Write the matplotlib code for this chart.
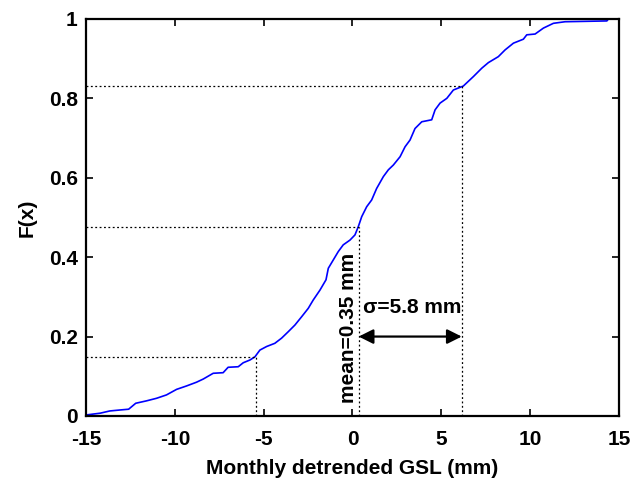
import numpy as np
import matplotlib
matplotlib.use('Agg')
import matplotlib.pyplot as plt

x_cdf = [-15.0, -14.2, -13.66, -13.1, -12.6, -12.2, -11.6, -11.03, -10.47, -9.9,
         -9.34, -8.78, -8.4, -7.84, -7.28, -7.0, -6.43, -6.15, -5.77, -5.49,
         -5.21, -4.83, -4.37, -3.99, -3.62, -3.24, -2.86, -2.49, -2.21, -1.83,
         -1.49, -1.36, -1.08, -0.80, -0.52, -0.14, 0.14, 0.33, 0.52, 0.80,
         1.08, 1.36, 1.74, 2.02, 2.30, 2.68, 2.96, 3.24, 3.52, 3.90,
         4.46, 4.65, 4.93, 5.31, 5.68, 6.24, 6.81, 7.28, 7.65, 8.21,
         8.59, 9.06, 9.62, 9.81, 10.28, 10.75, 11.31, 11.97, 14.32, 14.41, 15.0]
F_cdf = [0.0025, 0.007, 0.0126, 0.015, 0.017, 0.032, 0.038, 0.0445, 0.053, 0.067,
         0.0756, 0.085, 0.093, 0.1075, 0.109, 0.1226, 0.124, 0.134, 0.141, 0.149,
         0.166, 0.175, 0.183, 0.196, 0.212, 0.229, 0.25, 0.271, 0.292, 0.317,
         0.343, 0.372, 0.393, 0.414, 0.431, 0.443, 0.456, 0.477, 0.502, 0.527,
         0.544, 0.573, 0.603, 0.620, 0.632, 0.653, 0.678, 0.695, 0.724, 0.741,
         0.746, 0.771, 0.788, 0.80, 0.821, 0.831, 0.855, 0.876, 0.89, 0.905,
         0.922, 0.939, 0.949, 0.96, 0.962, 0.977, 0.989, 0.993, 0.995, 1.0, 1.0]

mean_val = 0.35
sigma = 5.8
guide_x = [mean_val - sigma, mean_val, mean_val + sigma]
guide_F = [0.149, 0.477, 0.83]

xticks = [-15, -10, -5, 0, 5, 10, 15]
yticks = [0, 0.2, 0.4, 0.6, 0.8, 1]
ytick_labels = ['0', '0.2', '0.4', '0.6', '0.8', '1']

plt.rcParams['font.family'] = ['Liberation Sans', 'DejaVu Sans']
plt.rcParams['font.weight'] = 'bold'
plt.rcParams['font.size'] = 15
plt.rcParams['axes.unicode_minus'] = False

fig = plt.figure(figsize=(6.36, 4.82), dpi=100)
ax = fig.add_axes([0.1352, 0.137, 0.838, 0.8237])

ax.plot(x_cdf, F_cdf, color='#0000ff', lw=1.2)

# dotted guide lines
for gx, gF in zip(guide_x, guide_F):
    ax.plot([-15, gx], [gF, gF], color='k', lw=0.9, linestyle=(0, (1.5, 2)))
    ax.plot([gx, gx], [0, gF], color='k', lw=0.9, linestyle=(0, (1.5, 2)))

# sigma arrow
ax.annotate('', xy=(mean_val + sigma, 0.2), xytext=(mean_val, 0.2),
            arrowprops=dict(arrowstyle='<|-|>', color='k', lw=1.6,
                            mutation_scale=22, shrinkA=0, shrinkB=0))
ax.text(0.58, 0.26, '\u03c3=5.8 mm', ha='left', va='baseline', fontsize=15,
        fontweight='bold')
ax.text(-0.22, 0.032, 'mean=0.35 mm', rotation=90, ha='center', va='bottom',
        fontsize=15, fontweight='bold')

ax.set_xlim(-15, 15)
ax.set_ylim(0, 1)
ax.set_xticks(xticks)
ax.set_yticks(yticks)
ax.set_yticklabels(ytick_labels)
ax.tick_params(direction='in', length=5, width=1.2, top=True, right=True,
               labelsize=15)
ax.tick_params(axis='x', pad=10)
ax.tick_params(axis='y', pad=6)
for s in ax.spines.values():
    s.set_linewidth(1.6)

ax.set_xlabel('Monthly detrended GSL (mm)', fontsize=15, fontweight='bold', labelpad=7)
ax.set_ylabel('F(x)', fontsize=15, fontweight='bold', labelpad=9)

plt.savefig('out.png', dpi=100)
